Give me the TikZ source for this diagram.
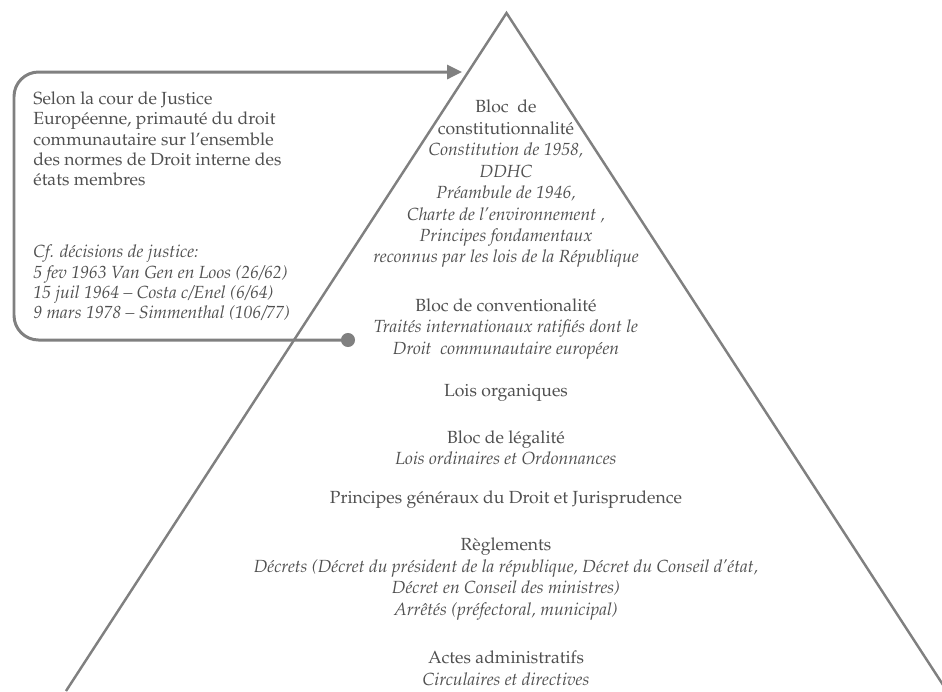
\documentclass[tikz,border=0pt]{standalone}
\usepackage[T1]{fontenc}
\usepackage{mathpazo}
\usetikzlibrary{arrows.meta}
\definecolor{pyrgray}{RGB}{128,128,128}
\definecolor{txtgray}{RGB}{80,80,80}

\begin{document}
\begin{tikzpicture}[x=0.02cm,y=-0.02cm]
  \tikzstyle{level} = [align=center, inner sep=0pt, text=txtgray, font=\fontsize{10}{12.2}\selectfont]
  \tikzstyle{note} = [align=left, anchor=west, inner sep=0pt, text=txtgray, font=\fontsize{10}{11.6}\selectfont]
  \tikzstyle{link} = [line width=1.7pt, draw=pyrgray, rounded corners=14pt, -{Triangle[length=8.5pt,width=8pt]}]
  \useasboundingbox (0,0) rectangle (942,691);
  \clip (0,0) rectangle (942,691);

  % pyramide
  \coordinate (apex) at (506.5,13);
  \coordinate (baseL) at (66,691);
  \coordinate (baseR) at (947,691);
  \draw[pyrgray, line width=1.4pt] (baseL) -- (apex) -- (baseR);

  % niveaux de la hierarchie
  \node[level] (bcst) at (506,184) {Bloc\ \ de\\constitutionnalit\'e\\
    \textit{Constitution de 1958,}\\ \textit{DDHC}\\ \textit{Pr\'eambule de 1946,}\\
    \textit{Charte de l'environnement ,}\\ \textit{Principes fondamentaux}\\
    \textit{reconnus par les lois de la R\'epublique}};
  \node[level] (bconv) at (506,329) {Bloc de conventionalit\'e\\
    \textit{Trait\'es internationaux ratifi\'es dont le}\\
    \textit{Droit\ \ communautaire europ\'een}};
  \node[level] (lorg) at (506,393) {Lois organiques};
  \node[level] (blegal) at (506,448) {Bloc de l\'egalit\'e\\
    \textit{Lois ordinaires et Ordonnances}};
  \node[level] (pgd) at (506,500) {Principes g\'en\'eraux du Droit et Jurisprudence};
  \node[level] (regl) at (506,579) {R\`eglements\\
    \textit{D\'ecrets (D\'ecret du pr\'esident de la r\'epublique, D\'ecret du Conseil d'\'etat,}\\
    \textit{D\'ecret en Conseil des ministres)}\\
    \textit{Arr\^et\'es (pr\'efectoral, municipal)}};
  \node[level] (actes) at (506,668) {Actes administratifs\\
    \textit{Circulaires et directives}};

  % primaute du droit communautaire
  \node[note] (cjue) at (33,139) {Selon la cour de Justice\\
    Europ\'eenne, primaut\'e du droit\\
    communautaire sur l'ensemble\\
    des normes de Droit interne des\\
    \'etats membres};
  \node[note] (arrets) at (33,283) {\textit{Cf. d\'ecisions de justice:}\\
    \textit{5 fev 1963 Van Gen en Loos (26/62)}\\
    \textit{15 juil 1964 -- Costa c/Enel (6/64)}\\
    \textit{9 mars 1978 -- Simmenthal (106/77)}};

  \node[circle, fill=pyrgray, inner sep=0pt, minimum size=8pt] (dot) at (348,340) {};
  \coordinate (corner) at (14,72);
  \coordinate (tip) at (462,72);
  \draw[link] (dot.center) -| (corner) -- (tip);
\end{tikzpicture}
\end{document}
